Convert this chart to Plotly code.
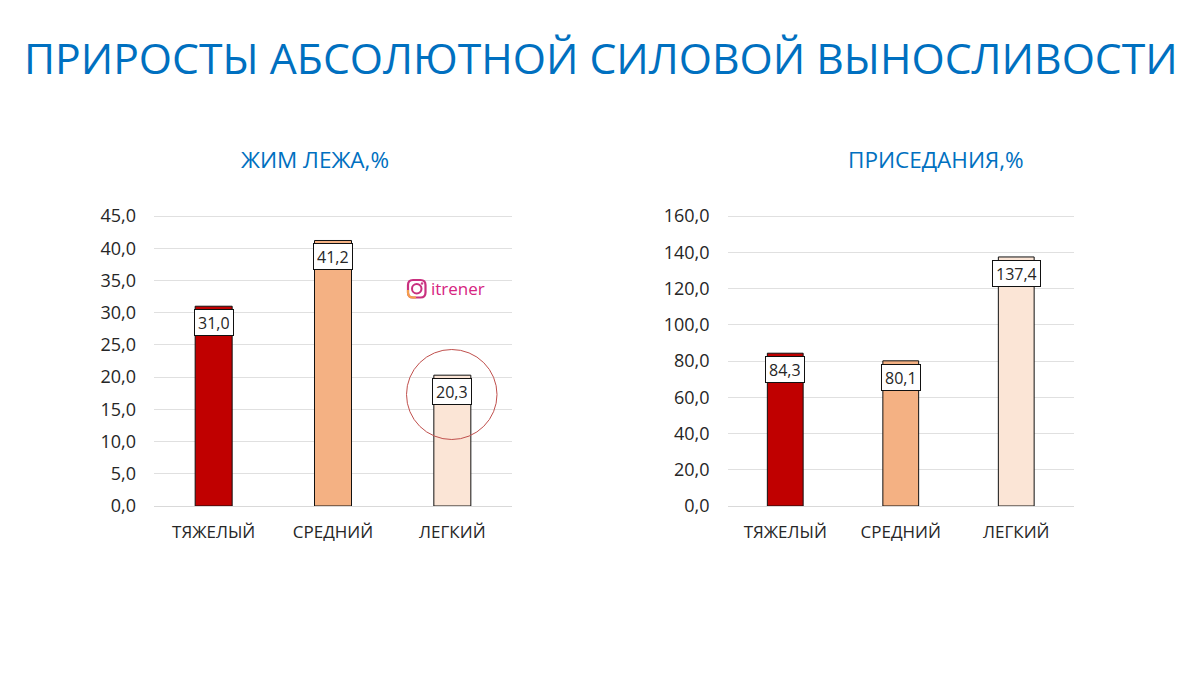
import plotly.graph_objects as go

W, H = 1192, 667
OFF = 8
categories = ["ТЯЖЕЛЫЙ", "СРЕДНИЙ", "ЛЕГКИЙ"]
bench_values = [31.0, 41.2, 20.3]
squat_values = [84.3, 80.1, 137.4]
bar_colors = ["#C00000", "#F4B183", "#FBE5D6"]
bench_ticks = [0, 5, 10, 15, 20, 25, 30, 35, 40, 45]
squat_ticks = [0, 20, 40, 60, 80, 100, 120, 140, 160]
title = "ПРИРОСТЫ АБСОЛЮТНОЙ СИЛОВОЙ ВЫНОСЛИВОСТИ"
bench_title = "ЖИМ ЛЕЖА,%"
squat_title = "ПРИСЕДАНИЯ,%"
FONT = "Open Sans"
BLUE = "#0070C0"
TEXT = "#262626"
INSTA = "#C9307F"


def fmt(v):
    return f"{v:.1f}".replace(".", ",")


def px(x):
    return (x - OFF) / W


def py(y):
    return 1 - (y - OFF) / H


fig = go.Figure()
panels = [("x", "y", bench_values), ("x2", "y2", squat_values)]
for xa, ya, vals in panels:
    fig.add_trace(go.Bar(x=categories, y=vals, xaxis=xa, yaxis=ya, width=0.31,
                         marker=dict(color=bar_colors, line=dict(color="#111111", width=1)),
                         showlegend=False, hoverinfo="skip"))
    for c, v in zip(categories, vals):
        fig.add_annotation(x=c, y=v, xref=xa, yref=ya, text=fmt(v), showarrow=False,
                           yanchor="top", yshift=-3, height=19,
                           bgcolor="white", bordercolor="#111111", borderwidth=1, borderpad=3,
                           font=dict(family=FONT, size=16, color=TEXT))


def xaxis(x0, x1, anchor):
    return dict(domain=[px(x0), px(x1)], showgrid=False, showline=True, linecolor="#D9D9D9",
                ticks="", ticklabelstandoff=11, anchor=anchor,
                tickfont=dict(family=FONT, size=17, color=TEXT), fixedrange=True)


def yaxis(ticks, ymax, anchor):
    # the range stops a little above the last tick so that its gridline is still drawn
    return dict(domain=[py(506), py(213)], range=[0, ymax * 293 / 290], tickvals=ticks,
                ticktext=[fmt(t) for t in ticks], showgrid=True, gridcolor="#E0E0E0",
                gridwidth=1, zeroline=False, showline=False, ticks="", ticklabelstandoff=17,
                anchor=anchor, tickfont=dict(family=FONT, size=18, color=TEXT), fixedrange=True)


fig.update_layout(
    width=W, height=H, autosize=False, paper_bgcolor="white", plot_bgcolor="white",
    margin=dict(l=0, r=0, t=0, b=0, autoexpand=False), font=dict(family=FONT),
    xaxis=xaxis(154, 512, "y"), yaxis=yaxis(bench_ticks, 45, "x"),
    xaxis2=xaxis(727.5, 1074, "y2"), yaxis2=yaxis(squat_ticks, 160, "x2"),
)


def paper_text(x, y, text, size, color=BLUE):
    fig.add_annotation(x=px(x), y=py(y), xref="paper", yref="paper", text=text, showarrow=False,
                       xanchor="center", yanchor="middle",
                       font=dict(family=FONT, size=size, color=color))


paper_text(601, 58, title, 42.7)
paper_text(315, 160, bench_title, 22.5)
paper_text(935.5, 160, squat_title, 22.5)
paper_text(457.5, 288, "itrener", 17, "#D6247F")


def rounded_rect(x0, y0, x1, y1, r):
    X0, X1 = px(x0), px(x1)
    Y0, Y1 = py(y0), py(y1)
    rx, ry = r / W, r / H
    return (f"M {X0 + rx} {Y0} L {X1 - rx} {Y0} Q {X1} {Y0} {X1} {Y0 - ry} "
            f"L {X1} {Y1 + ry} Q {X1} {Y1} {X1 - rx} {Y1} L {X0 + rx} {Y1} "
            f"Q {X0} {Y1} {X0} {Y1 + ry} L {X0} {Y0 - ry} Q {X0} {Y0} {X0 + rx} {Y0} Z")


fig.add_shape(type="circle", xref="paper", yref="paper", x0=px(406.5), x1=px(497),
              y0=py(439.5), y1=py(349.5), line=dict(color="#C0504D", width=1))
fig.add_shape(type="path", xref="paper", yref="paper", path=rounded_rect(408, 280, 425.5, 297.5, 5),
              line=dict(color=INSTA, width=2.2))
fig.add_shape(type="path", xref="paper", yref="paper",
              path=f"M {px(408)} {py(290)} L {px(408)} {py(292.5)} Q {px(408)} {py(297.5)} {px(413)} {py(297.5)} L {px(416)} {py(297.5)}",
              line=dict(color="#F5A04A", width=2.2))
fig.add_shape(type="circle", xref="paper", yref="paper", x0=px(412), x1=px(421.5),
              y0=py(293.5), y1=py(284), line=dict(color=INSTA, width=2))
fig.add_shape(type="circle", xref="paper", yref="paper", x0=px(421), x1=px(423),
              y0=py(284.5), y1=py(282.5), fillcolor=INSTA, line=dict(color=INSTA, width=0.5))
fig.write_html("out.html")
